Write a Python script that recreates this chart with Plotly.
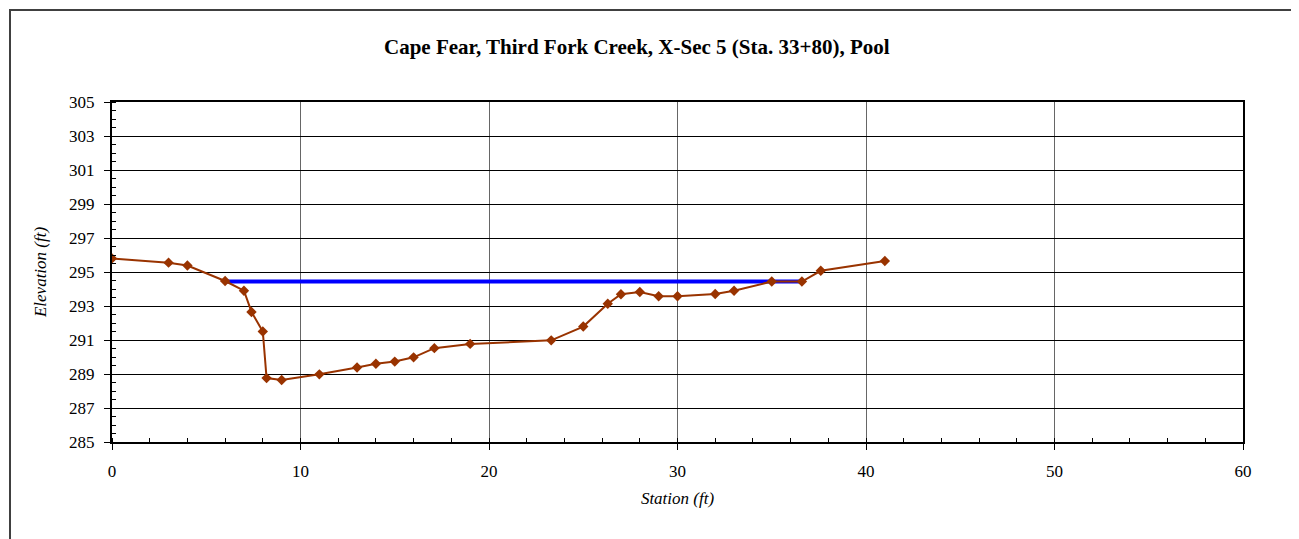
import plotly.graph_objects as go

# Cross-section survey points
station = [0, 3, 4, 6, 7, 7.4, 8, 8.2, 9, 11, 13, 14, 15, 16, 17.1, 19, 23.3,
           25, 26.3, 27, 28, 29, 30, 32, 33, 35, 36.6, 37.6, 41]
elevation = [295.8, 295.55, 295.38, 294.47, 293.9, 292.65, 291.5, 288.76, 288.65,
             288.98, 289.38, 289.6, 289.73, 289.98, 290.52, 290.77, 290.98,
             291.79, 293.13, 293.69, 293.82, 293.57, 293.57, 293.71, 293.9,
             294.44, 294.44, 295.07, 295.65]

# Water surface line
water_station = [6, 36.6]
water_elevation = [294.44, 294.44]

title = "Cape Fear, Third Fork Creek, X-Sec 5 (Sta. 33+80), Pool"
serif = "Liberation Serif, Times New Roman, serif"

fig = go.Figure()

fig.add_trace(go.Scatter(
    x=water_station, y=water_elevation,
    mode="lines",
    line=dict(color="#0000FF", width=4),
    showlegend=False,
))

fig.add_trace(go.Scatter(
    x=station, y=elevation,
    mode="lines+markers",
    line=dict(color="#993300", width=2),
    marker=dict(symbol="diamond", size=8, color="#993300"),
    showlegend=False,
))

# page body has an 8px margin, so the figure is drawn 8px in from the window edge
OFF = 8
W, H = 1299 - OFF, 539 - OFF
L, T = 112 - OFF, 102 - OFF
pw, ph = 1131, 340
R, B = W - L - pw, H - T - ph


def px(sx):
    # screen x -> paper x
    return (sx - 112) / pw


def py(sy):
    # screen y -> paper y
    return (442 - sy) / ph


fig.update_layout(
    width=W, height=H,
    margin=dict(l=L, r=R, t=T, b=B),
    paper_bgcolor="white",
    plot_bgcolor="white",
    font=dict(family=serif, color="black", size=17),
    showlegend=False,
    annotations=[dict(
        text=f"<b>{title}</b>",
        xref="paper", yref="paper",
        x=px(637), y=py(47),
        xanchor="center", yanchor="middle",
        showarrow=False,
        font=dict(size=21, family=serif),
    )],
    shapes=[dict(
        type="rect", xref="paper", yref="paper",
        x0=px(10), x1=px(1320), y0=py(10), y1=py(570),
        line=dict(color="#404040", width=2),
        layer="below",
    )],
)

fig.update_xaxes(
    range=[0, 60], dtick=10, tick0=0,
    showgrid=True, gridcolor="#666666", gridwidth=1,
    showline=True, linecolor="black", linewidth=2, mirror=True,
    ticks="outside", ticklen=6, tickcolor="black",
    minor=dict(dtick=2, ticks="inside", ticklen=4, tickcolor="black", showgrid=False),
    zeroline=False,
    tickfont=dict(size=17),
    ticklabelstandoff=7,
    title=dict(text="<i>Station (ft)</i>", font=dict(size=17), standoff=12),
)

fig.update_yaxes(
    range=[285, 305], dtick=2, tick0=285,
    showgrid=True, gridcolor="black", gridwidth=1,
    showline=True, linecolor="black", linewidth=2, mirror=True,
    ticks="outside", ticklen=6, tickcolor="black",
    minor=dict(dtick=0.5, ticks="inside", ticklen=4, tickcolor="black", showgrid=False),
    zeroline=False,
    tickfont=dict(size=17),
    ticklabelstandoff=6,
    title=dict(text="<i>Elevation (ft)</i>", font=dict(size=17), standoff=18),
)

fig.write_html("out.html")
